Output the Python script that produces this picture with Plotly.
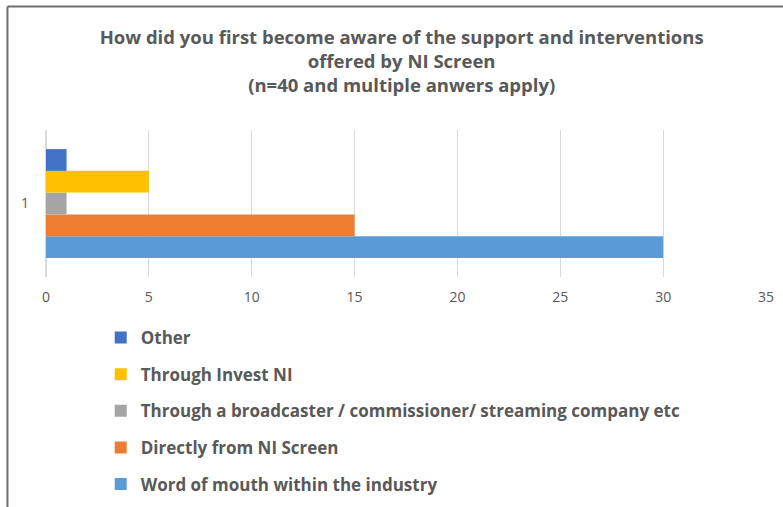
import plotly.graph_objects as go

# survey answers (n=40, multiple answers apply)
categories = ["1"]
series_names = [
    "Word of mouth within the industry",
    "Directly from NI Screen",
    "Through a broadcaster / commissioner/ streaming company etc",
    "Through Invest NI",
    "Other",
]
series_values = [30, 15, 1, 5, 1]
series_colors = ["#5B9BD5", "#ED7D31", "#A5A5A5", "#FFC000", "#4472C4"]
x_ticks = [0, 5, 10, 15, 20, 25, 30, 35]

font_family = "Open Sans, Noto Sans, sans-serif"
text_grey = "#595959"

fig = go.Figure()
for i, (name, val, col) in enumerate(zip(series_names, series_values, series_colors)):
    # first trace sits at the bottom of the group, legend lists them top-down
    fig.add_trace(go.Bar(
        y=categories, x=[val], name=name, orientation="h",
        marker_color=col, marker_line_width=0,
        legendgroup=str(i), legendrank=len(series_names) - i,
    ))

fig.update_layout(
    width=783, height=507,
    margin=dict(l=46, r=17, t=130, b=230, autoexpand=False),
    paper_bgcolor="white", plot_bgcolor="white",
    barmode="group", bargap=0.26, bargroupgap=0,
    font=dict(family=font_family, color=text_grey),
    title=dict(
        text="How did you first become aware of the support and interventions<br>"
             "offered by NI Screen<br>(n=40 and multiple anwers apply)",
        x=0.513, xanchor="center", y=0.913, yanchor="top",
        font=dict(size=18.5, color=text_grey, family=font_family, weight="bold"),
    ),
    legend=dict(
        x=0.076, y=-0.293, xanchor="left", yanchor="top",
        traceorder="grouped", tracegroupgap=11.5,
        font=dict(size=17, color=text_grey, family=font_family, weight="bold"),
        itemclick=False,
    ),
    showlegend=True,
)
fig.update_xaxes(
    range=[0, 35], tickvals=x_ticks, showgrid=True, gridcolor="#D9D9D9", gridwidth=1,
    zeroline=True, zerolinecolor="#D9D9D9", showline=False,
    tickfont=dict(size=14, color=text_grey), ticklabelstandoff=10,
)
fig.update_yaxes(
    showgrid=False, zeroline=False, showline=False,
    tickfont=dict(size=14, color=text_grey), ticklabelstandoff=16,
)

# chart frame (top and left edges visible)
fig.add_shape(type="line", xref="paper", yref="paper",
              x0=-0.0535, y0=1.84, x1=1.03, y1=1.84,
              line=dict(color="#6E6E6E", width=2))
fig.add_shape(type="line", xref="paper", yref="paper",
              x0=-0.0535, y0=1.84, x1=-0.0535, y1=-1.6,
              line=dict(color="#6E6E6E", width=2))

fig.write_html("out.html", config={"displayModeBar": False},
               post_script="document.body.style.margin='0px';")
